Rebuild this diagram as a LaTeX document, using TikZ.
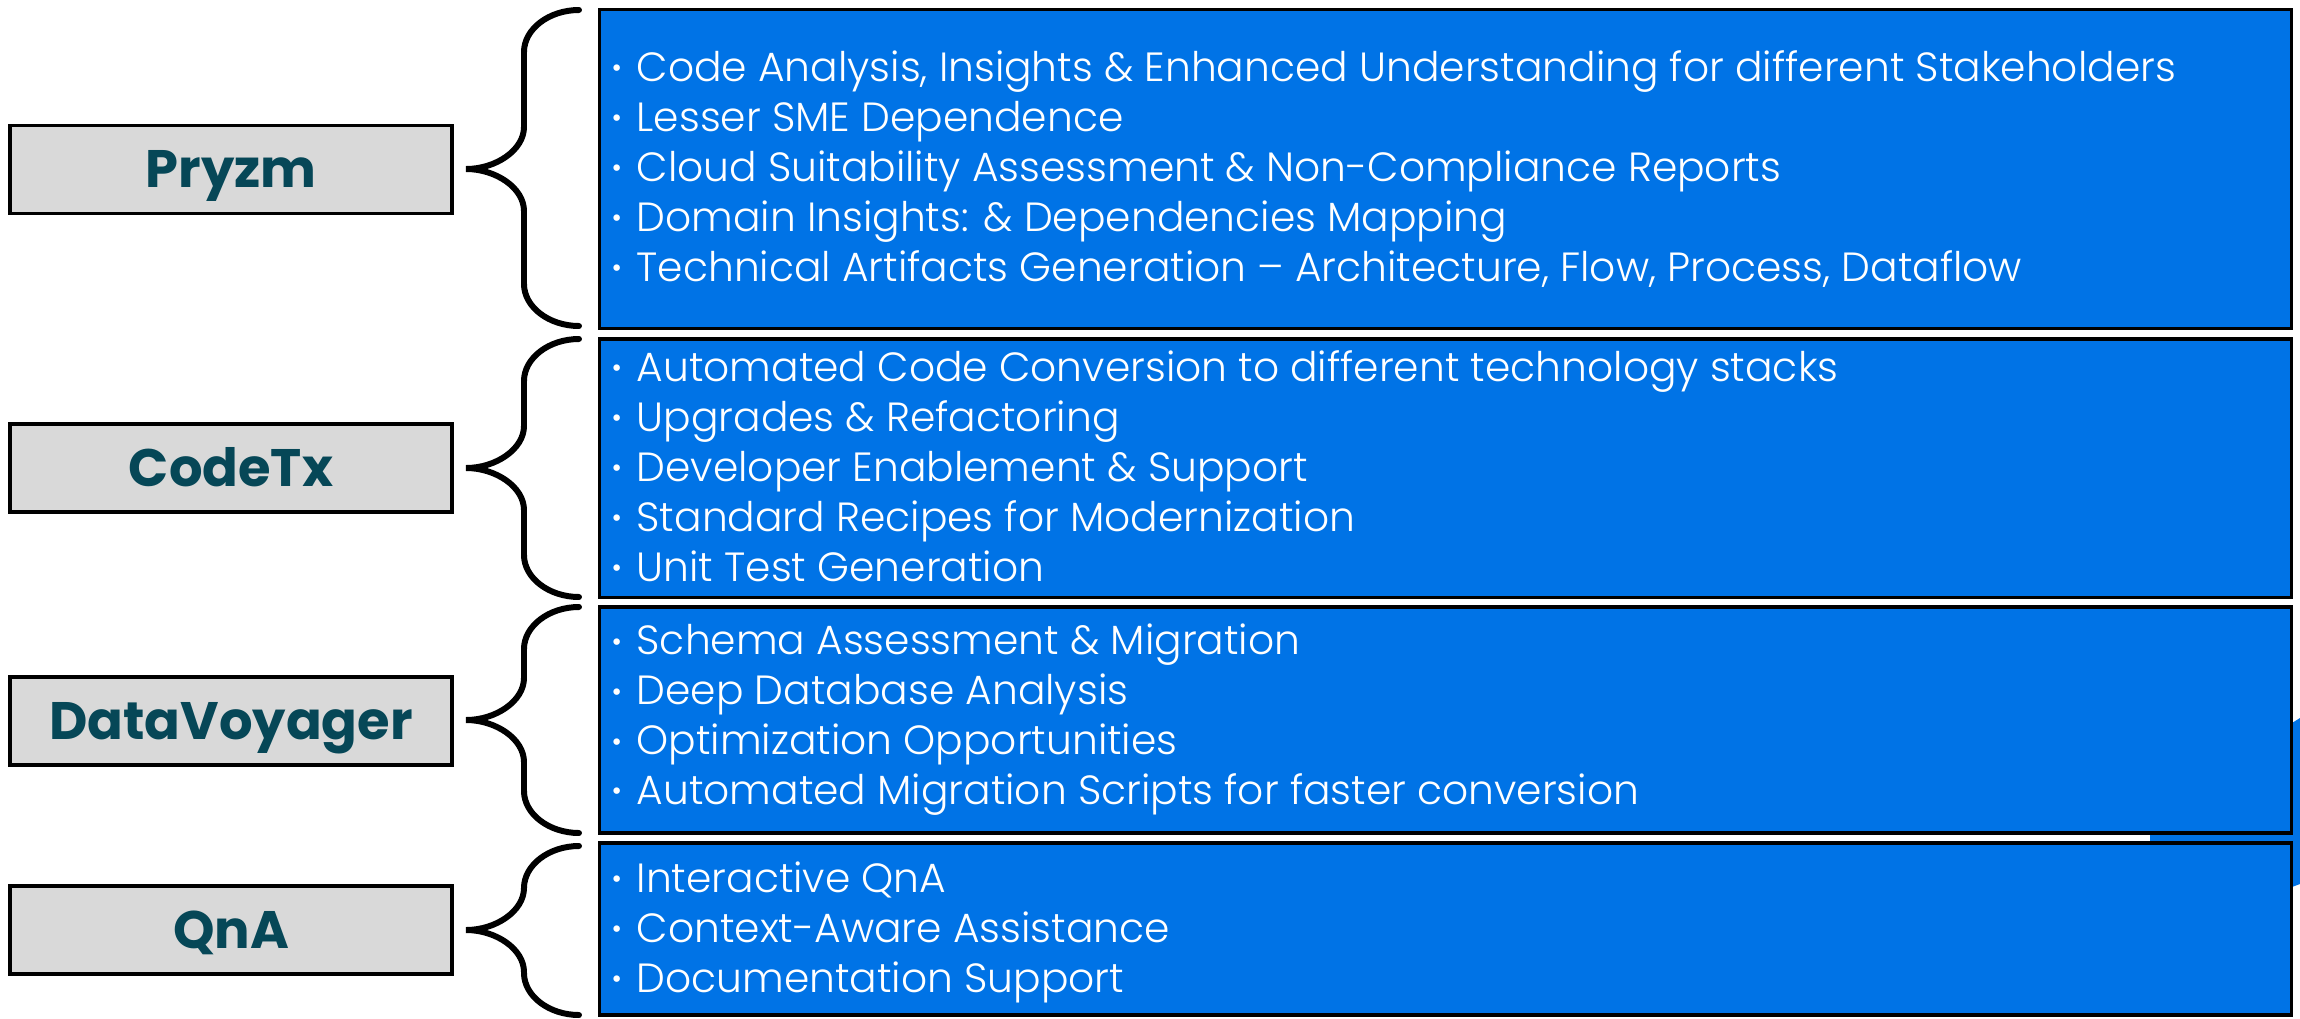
\documentclass[tikz,border=0pt]{standalone}
\usepackage{fontspec}
\setmainfont{Poppins}
\newfontfamily\lightfont{Poppins}[UprightFont=* Light]
\usetikzlibrary{positioning}
\definecolor{boxblue}{HTML}{0073E6}
\definecolor{labelgray}{HTML}{D9D9D9}
\definecolor{labelteal}{HTML}{064757}
\newcommand\featdot{\makebox[0.25cm][l]{\fontsize{8}{8}\selectfont\raisebox{0.25ex}{•}}}
\tikzset{
  product/.style={draw=black, line width=1pt, fill=labelgray, inner sep=0pt,
    minimum width=4.42cm, minimum height=0.88cm, text=labelteal,
    text height=10.5pt, text depth=0pt,
    font=\bfseries\fontsize{15}{18}\selectfont},
  feature/.style={draw=black, line width=0.9pt, fill=boxblue, inner sep=0pt,
    minimum width=16.91cm},
  featuretext/.style={anchor=west, align=left, inner sep=0pt, text=white,
    font=\lightfont\fontsize{11.6}{14.2}\selectfont},
  curly/.style={line width=1.7pt, line cap=round}
}
\begin{document}
\begin{tikzpicture}[x=0.01cm, y=-0.01cm]
  \useasboundingbox (0,0) rectangle (2300,1018);
  % blue shape peeking out on the right
  \fill[boxblue] (2150,780) -- (2292,723) -- (2300,718) -- (2300,884) -- (2292,887) -- (2150,880) -- cycle;
  % products
  \node[product] (pryzm) at (231,169.5) {Pryzm};
  \node[product] (codetx) at (231,468) {CodeTx};
  \node[product] (voyager) at (231,721) {DataVoyager};
  \node[product] (qna) at (231,930) {QnA};
  % feature boxes
  \node[feature, minimum height=3.18cm] (pryzmbox) at (1445.5,169) {};
  \node[feature, minimum height=2.58cm] (codetxbox) at (1445.5,468) {};
  \node[feature, minimum height=2.26cm] (voyagerbox) at (1445.5,720) {};
  \node[feature, minimum height=1.72cm] (qnabox) at (1445.5,929) {};
  \node[featuretext] at ([xshift=0.13cm]pryzmbox.west) {%
    \featdot Code Analysis, Insights \& Enhanced Understanding for different Stakeholders\\
    \featdot Lesser SME Dependence\\
    \featdot Cloud Suitability Assessment \& Non-Compliance Reports\\
    \featdot Domain Insights: \& Dependencies Mapping\\
    \featdot Technical Artifacts Generation – Architecture, Flow, Process, Dataflow};
  \node[featuretext] at ([xshift=0.13cm, yshift=0.02cm]codetxbox.west) {%
    \featdot Automated Code Conversion to different technology stacks\\
    \featdot Upgrades \& Refactoring\\
    \featdot Developer Enablement \& Support\\
    \featdot Standard Recipes for Modernization\\
    \featdot Unit Test Generation};
  \node[featuretext] at ([xshift=0.13cm]voyagerbox.west) {%
    \featdot Schema Assessment \& Migration\\
    \featdot Deep Database Analysis\\
    \featdot Optimization Opportunities\\
    \featdot Automated Migration Scripts for faster conversion};
  \node[featuretext] at ([xshift=0.13cm, yshift=-0.03cm]qnabox.west) {%
    \featdot Interactive QnA\\
    \featdot Context-Aware Assistance\\
    \featdot Documentation Support};
  % braces
  \foreach \t/\m/\b in {10/169/326, 339/468/597, 607/720/833, 846/930/1015}
    \draw[curly] (579,\t) .. controls (549,\t) and (524,\t+19) .. (524,\t+42)
      -- (524,\m-42) .. controls (524,\m-19) and (496,\m) .. (466,\m)
      .. controls (496,\m) and (524,\m+19) .. (524,\m+42)
      -- (524,\b-42) .. controls (524,\b-19) and (549,\b) .. (579,\b);
\end{tikzpicture}
\end{document}
